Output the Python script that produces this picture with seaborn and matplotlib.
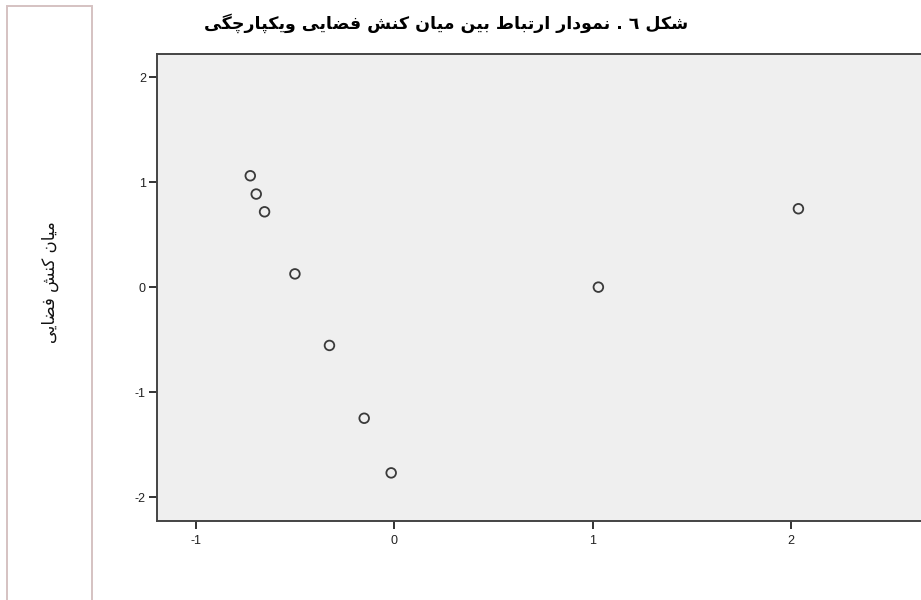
import matplotlib
matplotlib.use("Agg")
import matplotlib.pyplot as plt
from matplotlib.patches import Rectangle
import pandas as pd
import seaborn as sns

# points
x_vals = [-0.725, -0.695, -0.653, -0.500, -0.326, -0.151, -0.015, 1.029, 2.037]
y_vals = [1.060, 0.886, 0.717, 0.126, -0.555, -1.248, -1.768, 0.000, 0.746]
x_ticks = [-1, 0, 1, 2]
y_ticks = [-2, -1, 0, 1, 2]

title_text = "شکل ٦ . نمودار ارتباط بین میان کنش فضایی ویکپارچگی"
ylabel_text = "میان کنش فضایی"

# presentation forms: isolated, final, initial, medial (None = no forward join)
FORMS = {
    "ا": ("\uFE8D", "\uFE8E", None, None),
    "د": ("\uFEA9", "\uFEAA", None, None),
    "ر": ("\uFEAD", "\uFEAE", None, None),
    "و": ("\uFEED", "\uFEEE", None, None),
    "ب": ("\uFE8F", "\uFE90", "\uFE91", "\uFE92"),
    "ت": ("\uFE95", "\uFE96", "\uFE97", "\uFE98"),
    "ج": ("\uFE9D", "\uFE9E", "\uFE9F", "\uFEA0"),
    "چ": ("\uFB7A", "\uFB7B", "\uFB7C", "\uFB7D"),
    "ش": ("\uFEB5", "\uFEB6", "\uFEB7", "\uFEB8"),
    "ض": ("\uFEBD", "\uFEBE", "\uFEBF", "\uFEC0"),
    "ط": ("\uFEC1", "\uFEC2", "\uFEC3", "\uFEC4"),
    "ف": ("\uFED1", "\uFED2", "\uFED3", "\uFED4"),
    "ک": ("\uFB8E", "\uFB8F", "\uFB90", "\uFB91"),
    "گ": ("\uFB92", "\uFB93", "\uFB94", "\uFB95"),
    "ل": ("\uFEDD", "\uFEDE", "\uFEDF", "\uFEE0"),
    "م": ("\uFEE1", "\uFEE2", "\uFEE3", "\uFEE4"),
    "ن": ("\uFEE5", "\uFEE6", "\uFEE7", "\uFEE8"),
    "ی": ("\uFBFC", "\uFBFD", "\uFBFE", "\uFBFF"),
    "پ": ("\uFB56", "\uFB57", "\uFB58", "\uFB59"),
}


def shape_rtl(text):
    # join the letters and flip to visual order, matplotlib has no bidi
    out = []
    for i, ch in enumerate(text):
        if ch not in FORMS:
            out.append(ch)
            continue
        prev = text[i - 1] if i > 0 else ""
        nxt = text[i + 1] if i + 1 < len(text) else ""
        iso, fin, ini, med = FORMS[ch]
        join_prev = prev in FORMS and FORMS[prev][2] is not None
        join_next = ini is not None and nxt in FORMS
        if join_prev and join_next:
            out.append(med)
        elif join_prev:
            out.append(fin)
        elif join_next:
            out.append(ini)
        else:
            out.append(iso)
    return "".join(reversed(out))


df = pd.DataFrame({"x": x_vals, "y": y_vals})

sns.set_theme(style="ticks")
plt.rcParams["font.family"] = ["Liberation Sans", "DejaVu Sans"]

fig = plt.figure(figsize=(9.21, 6), dpi=100)
ax = fig.add_axes([157 / 921, 79 / 600, (930 - 157) / 921, (521 - 54) / 600])
ax.set_facecolor("#efefef")

sns.scatterplot(data=df, x="x", y="y", ax=ax, marker="o", s=48,
                facecolors="none", edgecolor="#3a3a3a", linewidth=1.3)

ax.set_xlim(-1.195, 2.70)
ax.set_ylim(-2.226, 2.219)
ax.set_xticks(x_ticks)
ax.set_yticks(y_ticks)
ax.set_xticklabels([str(t) for t in x_ticks])
ax.set_yticklabels([str(t) for t in y_ticks])
ax.tick_params(length=6, width=1.4, color="#333333", labelsize=9,
               labelcolor="#222222", pad=2)
ax.tick_params(axis="x", pad=4)
for side in ["left", "bottom", "top", "right"]:
    ax.spines[side].set_visible(True)
    ax.spines[side].set_color("#444444")
    ax.spines[side].set_linewidth(1.4)
ax.set_xlabel("")
ax.set_ylabel("")

# left frame with the rotated axis title
fig.patches.append(Rectangle((7 / 921, -0.05), 85 / 921, 1.04, transform=fig.transFigure,
                             fill=False, edgecolor="#d5c2c2", linewidth=1.4))
fig.text(50 / 921, 1 - 282 / 600, shape_rtl(ylabel_text), rotation=90,
         ha="center", va="center", fontsize=12, family=["DejaVu Sans"], color="#111111")

fig.text(446 / 921, 1 - 23 / 600, shape_rtl(title_text), ha="center", va="center",
         fontsize=12.5, fontweight="bold", family=["DejaVu Sans"], color="#000000")

fig.savefig("out.png", dpi=100)
